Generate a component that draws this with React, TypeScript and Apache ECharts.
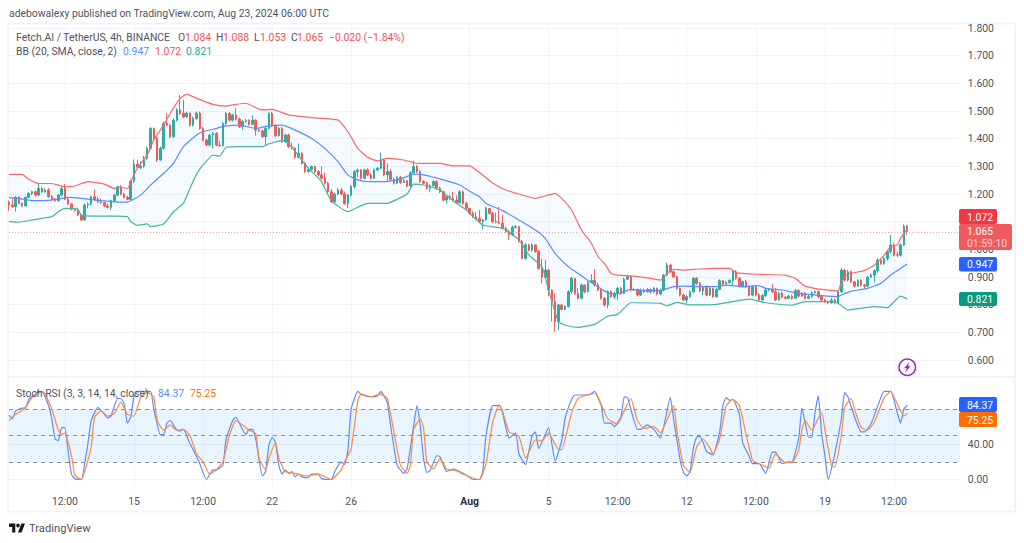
import React, { useEffect, useRef } from "react";
import * as echarts from "echarts";

const closes = [
  1.160,1.154,1.188,1.166,1.157,1.188,1.202,1.208,1.196,1.220,
  1.208,1.214,1.190,1.181,1.176,1.196,1.220,1.181,1.164,1.145,
  1.140,1.124,1.106,1.160,1.164,1.190,1.181,1.172,1.169,1.157,
  1.152,1.176,1.196,1.226,1.200,1.188,1.181,1.247,1.308,1.296,
  1.301,1.330,1.365,1.437,1.401,1.323,1.365,1.455,1.449,1.407,
  1.467,1.504,1.492,1.479,1.492,1.449,1.473,1.492,1.437,1.395,
  1.377,1.413,1.419,1.377,1.375,1.455,1.491,1.467,1.485,1.471,
  1.443,1.462,1.466,1.452,1.467,1.431,1.428,1.407,1.437,1.491,
  1.447,1.411,1.437,1.389,1.413,1.371,1.365,1.333,1.347,1.311,
  1.281,1.289,1.299,1.281,1.269,1.257,1.239,1.208,1.172,1.200,
  1.214,1.200,1.166,1.196,1.227,1.281,1.287,1.257,1.287,1.269,
  1.257,1.287,1.293,1.323,1.269,1.281,1.253,1.239,1.260,1.241,
  1.248,1.229,1.277,1.299,1.281,1.245,1.239,1.221,1.230,1.245,
  1.221,1.208,1.178,1.190,1.184,1.178,1.169,1.208,1.166,1.148,
  1.130,1.118,1.112,1.100,1.106,1.148,1.130,1.100,1.098,1.094,
  1.076,1.064,1.052,1.080,1.082,1.028,0.967,1.016,0.998,1.016,
  0.992,0.931,0.899,0.925,0.853,0.811,0.739,0.799,0.783,0.793,
  0.847,0.895,0.841,0.823,0.871,0.847,0.880,0.887,0.871,0.853,
  0.823,0.799,0.847,0.829,0.841,0.859,0.841,0.892,0.901,0.853,
  0.855,0.835,0.853,0.847,0.855,0.846,0.859,0.839,0.853,0.907,
  0.943,0.919,0.901,0.859,0.835,0.817,0.829,0.847,0.895,0.877,
  0.850,0.862,0.835,0.859,0.829,0.855,0.887,0.875,0.880,0.887,
  0.919,0.895,0.867,0.883,0.865,0.835,0.865,0.835,0.817,0.833,
  0.853,0.855,0.847,0.817,0.841,0.827,0.823,0.831,0.823,0.851,
  0.831,0.841,0.823,0.829,0.843,0.847,0.829,0.817,0.811,0.807,
  0.817,0.807,0.847,0.925,0.889,0.919,0.883,0.867,0.887,0.871,
  0.867,0.899,0.907,0.923,0.961,0.949,0.967,0.992,1.016,0.980,
  0.979,1.016,1.084,1.065,
];
const firstOpen = 1.17;
const highs = [
  1.176,1.185,1.192,1.192,1.170,1.192,1.206,1.212,1.212,1.238,
  1.224,1.220,1.222,1.196,1.186,1.200,1.226,1.236,1.186,1.168,
  1.148,1.150,1.126,1.166,1.170,1.194,1.217,1.190,1.184,1.172,
  1.166,1.180,1.200,1.230,1.232,1.204,1.194,1.252,1.325,1.325,
  1.318,1.338,1.372,1.442,1.440,1.410,1.372,1.462,1.492,1.452,
  1.474,1.510,1.558,1.540,1.498,1.495,1.480,1.498,1.498,1.442,
  1.400,1.418,1.424,1.424,1.392,1.460,1.496,1.495,1.490,1.510,
  1.476,1.468,1.472,1.470,1.484,1.470,1.436,1.432,1.442,1.496,
  1.497,1.452,1.442,1.442,1.418,1.418,1.386,1.370,1.383,1.350,
  1.316,1.295,1.304,1.302,1.286,1.299,1.277,1.244,1.218,1.205,
  1.222,1.222,1.208,1.200,1.232,1.286,1.292,1.290,1.292,1.293,
  1.276,1.292,1.298,1.349,1.328,1.311,1.290,1.258,1.266,1.265,
  1.255,1.252,1.282,1.320,1.305,1.286,1.250,1.244,1.236,1.250,
  1.250,1.226,1.212,1.196,1.198,1.208,1.195,1.214,1.212,1.172,
  1.150,1.138,1.136,1.142,1.110,1.154,1.150,1.136,1.133,1.154,
  1.124,1.082,1.070,1.086,1.088,1.086,1.034,1.022,1.020,1.022,
  1.018,0.998,0.967,0.962,0.930,0.855,0.841,0.803,0.802,0.798,
  0.852,0.900,0.896,0.860,0.876,0.873,0.885,0.910,0.928,0.880,
  0.858,0.828,0.852,0.852,0.846,0.864,0.864,0.897,0.908,0.904,
  0.860,0.858,0.858,0.858,0.860,0.858,0.864,0.862,0.858,0.912,
  0.952,0.946,0.924,0.905,0.862,0.840,0.835,0.852,0.900,0.900,
  0.882,0.868,0.870,0.864,0.862,0.860,0.892,0.888,0.886,0.892,
  0.925,0.925,0.900,0.888,0.890,0.870,0.870,0.871,0.842,0.838,
  0.858,0.860,0.875,0.860,0.846,0.846,0.832,0.836,0.836,0.856,
  0.856,0.846,0.846,0.836,0.848,0.852,0.851,0.834,0.822,0.815,
  0.824,0.822,0.852,0.932,0.930,0.926,0.924,0.885,0.892,0.892,
  0.876,0.904,0.914,0.928,0.968,0.966,0.972,0.998,1.052,1.024,
  0.992,1.022,1.090,1.088,
];
const lows = [
  1.140,1.150,1.136,1.162,1.152,1.155,1.185,1.196,1.190,1.192,
  1.204,1.204,1.186,1.177,1.172,1.172,1.192,1.178,1.160,1.141,
  1.136,1.120,1.102,1.104,1.148,1.158,1.176,1.168,1.165,1.153,
  1.148,1.142,1.170,1.192,1.196,1.184,1.177,1.178,1.240,1.290,
  1.290,1.295,1.322,1.360,1.395,1.316,1.320,1.360,1.445,1.402,
  1.404,1.462,1.486,1.474,1.476,1.444,1.444,1.468,1.432,1.390,
  1.372,1.372,1.365,1.372,1.370,1.372,1.450,1.462,1.462,1.466,
  1.438,1.431,1.458,1.447,1.450,1.411,1.424,1.403,1.375,1.434,
  1.442,1.406,1.408,1.384,1.386,1.366,1.360,1.328,1.329,1.306,
  1.276,1.277,1.285,1.276,1.264,1.252,1.234,1.203,1.167,1.168,
  1.196,1.195,1.161,1.150,1.190,1.220,1.262,1.252,1.254,1.264,
  1.252,1.254,1.282,1.290,1.264,1.248,1.248,1.234,1.236,1.236,
  1.240,1.224,1.226,1.274,1.276,1.240,1.234,1.216,1.206,1.226,
  1.216,1.203,1.173,1.166,1.179,1.173,1.164,1.166,1.161,1.143,
  1.126,1.113,1.107,1.095,1.072,1.103,1.125,1.096,1.094,1.090,
  1.072,1.060,1.034,1.048,1.076,1.024,0.965,0.963,0.994,0.992,
  0.988,0.927,0.877,0.893,0.831,0.739,0.702,0.708,0.779,0.780,
  0.790,0.840,0.835,0.818,0.820,0.842,0.845,0.878,0.866,0.849,
  0.818,0.794,0.787,0.825,0.820,0.817,0.836,0.838,0.890,0.848,
  0.848,0.830,0.831,0.842,0.843,0.841,0.842,0.834,0.834,0.848,
  0.902,0.914,0.896,0.854,0.830,0.812,0.805,0.824,0.842,0.872,
  0.845,0.835,0.830,0.832,0.825,0.825,0.852,0.870,0.872,0.876,
  0.871,0.890,0.862,0.862,0.860,0.830,0.830,0.830,0.812,0.815,
  0.828,0.848,0.842,0.812,0.815,0.822,0.818,0.820,0.818,0.820,
  0.826,0.828,0.818,0.820,0.825,0.840,0.824,0.812,0.806,0.802,
  0.803,0.802,0.805,0.842,0.884,0.884,0.878,0.862,0.864,0.866,
  0.860,0.862,0.900,0.880,0.915,0.944,0.944,0.960,0.985,0.975,
  0.972,0.975,1.012,1.053,
];

const bbUpper = [
  [0,1.271],[4,1.271],[6,1.253],[9,1.238],[13,1.238],[17,1.226],[20,1.229],[24,1.245],[29,1.236],[32,1.220],
  [33,1.226],[36,1.220],[37,1.245],[39,1.293],[42,1.341],[44,1.395],[47,1.449],[49,1.492],[52,1.546],[54,1.561],
  [57,1.546],[62,1.524],[66,1.518],[69,1.524],[72,1.528],[76,1.507],[78,1.504],[80,1.506],[85,1.486],[92,1.476],
  [100,1.4675],[103,1.425],[106,1.365],[109,1.333],[112,1.320],[115,1.329],[120,1.323],[124,1.311],[131,1.311],
  [135,1.302],[140,1.302],[143,1.278],[147,1.24],[151,1.2145],[155,1.200],[160,1.184],[162,1.190],[166,1.2025],
  [168,1.184],[171,1.142],[174,1.070],[177,1.022],[179,0.974],[181,0.949],[183,0.913],[185,0.907],[189,0.904],
  [193,0.899],[198,0.889],[200,0.913],[202,0.928],[205,0.925],[210,0.929],[215,0.931],[219,0.931],[221,0.916],
  [227,0.910],[236,0.907],[239,0.895],[242,0.867],[247,0.855],[252,0.850],[253,0.883],[255,0.911],[260,0.923],
  [263,0.943],[266,0.979],[268,1.010],[270,1.016],[271,1.040],[273,1.072],
];
const bbMiddle = [
  [0,1.187],[3,1.184],[7,1.176],[13,1.178],[18,1.188],[22,1.184],[28,1.176],[33,1.171],[36,1.171],[40,1.196],
  [43,1.232],[47,1.275],[50,1.311],[53,1.371],[57,1.413],[59,1.425],[62,1.434],[66,1.446],[70,1.449],[75,1.437],
  [79,1.446],[83,1.449],[87,1.431],[92,1.401],[96,1.365],[100,1.317],[103,1.269],[106,1.251],[109,1.245],[114,1.245],
  [119,1.254],[123,1.272],[126,1.269],[132,1.251],[137,1.2325],[140,1.21],[143,1.190],[145,1.166],[150,1.140],
  [155,1.106],[160,1.070],[163,1.040],[166,0.985],[170,0.937],[173,0.913],[176,0.887],[179,0.865],[182,0.843],
  [185,0.839],[189,0.855],[193,0.851],[198,0.851],[202,0.865],[205,0.867],[210,0.865],[215,0.865],[218,0.871],
  [223,0.865],[228,0.869],[230,0.859],[235,0.853],[240,0.841],[247,0.833],[252,0.829],[253,0.835],[256,0.849],
  [261,0.859],[265,0.877],[268,0.907],[271,0.931],[273,0.947],
];
const bbLower = [
  [0,1.100],[3,1.098],[7,1.106],[13,1.118],[15,1.136],[17,1.148],[21,1.145],[22,1.122],[32,1.120],[36,1.118],
  [37,1.100],[39,1.087],[42,1.092],[43,1.082],[47,1.092],[50,1.136],[53,1.166],[55,1.220],[57,1.271],[59,1.305],
  [62,1.341],[64,1.337],[66,1.369],[70,1.371],[77,1.371],[79,1.381],[83,1.393],[85,1.383],[91,1.293],[95,1.245],
  [98,1.175],[103,1.136],[106,1.152],[109,1.166],[115,1.166],[118,1.181],[121,1.200],[123,1.236],[126,1.2325],
  [131,1.214],[135,1.175],[139,1.142],[144,1.088],[150,1.076],[155,1.034],[158,0.980],[162,0.937],[164,0.853],
  [167,0.739],[170,0.723],[173,0.718],[178,0.729],[182,0.759],[185,0.765],[189,0.807],[198,0.805],[200,0.796],
  [203,0.808],[207,0.799],[214,0.800],[220,0.811],[225,0.820],[230,0.807],[238,0.798],[242,0.811],[250,0.811],
  [252,0.805],[255,0.781],[259,0.787],[263,0.793],[267,0.789],[271,0.831],[273,0.821],
];

const stochK = [
  [0,73],[1,69],[2,78],[4,81],[5,81],[6,91],[8,97],[9,100],[10,100],[12,84],[13,69],[14,46],[15,44],[16,59],[17,59],
  [18,31],[19,6],[20,1],[22,0],[23,18],[24,41],[25,67],[27,82],[29,74],[30,70],[31,72],[33,92],[34,92],[35,86],[36,64],
  [37,71],[38,95],[39,100],[43,100],[44,80],[46,51],[47,51],[48,64],[49,67],[51,56],[52,55],[53,57],[55,41],[57,26],
  [58,18],[60,0],[62,11],[63,11],[65,16],[66,46],[68,67],[69,71],[70,64],[72,51],[73,57],[74,57],[75,46],[77,4],[78,9],
  [79,39],[80,48],[81,42],[82,16],[83,6],[84,11],[85,7],[86,9],[87,3],[88,6],[89,3],[91,2],[92,6],[94,6],[95,1],[98,0],
  [99,9],[101,20],[102,17],[103,33],[104,80],[106,100],[107,97],[110,94],[112,95],[113,100],[115,87],[116,61],[118,16],
  [120,7],[121,12],[123,61],[124,84],[125,61],[126,24],[127,8],[128,10],[130,27],[131,26],[133,9],[135,12],[137,9],
  [139,5],[141,0],[143,0],[144,9],[145,50],[147,84],[149,84],[150,76],[152,47],[154,53],[155,29],[157,17],[159,50],
  [160,54],[161,35],[164,59],[166,21],[168,44],[169,69],[171,91],[172,96],[176,96],[178,100],[180,84],[181,64],[183,64],
  [184,60],[186,71],[187,94],[188,93],[191,57],[192,57],[194,62],[196,57],[198,47],[201,93],[202,69],[204,22],[205,8],
  [206,4],[207,9],[208,35],[209,48],[210,49],[211,42],[212,32],[214,28],[216,54],[217,84],[218,93],[219,90],[220,91],
  [222,74],[223,42],[225,26],[226,18],[228,18],[230,7],[232,31],[233,31],[235,18],[237,20],[238,20],[240,46],[241,81],
  [242,65],[243,48],[244,48],[245,76],[246,95],[247,52],[248,27],[249,0],[251,29],[253,69],[254,99],[255,94],[257,71],
  [259,54],[260,54],[262,63],[265,93],[266,100],[268,100],[270,76],[271,64],[272,80],[273,84.37],
];
const stochD = [
  [0,67],[2,74],[3,76],[5,82],[7,93],[10,100],[11,97],[13,80],[15,56],[16,51],[17,53],[19,27],[20,5],[22,0],[23,9],
  [25,37],[26,71],[28,78],[30,72],[32,75],[34,88],[36,74],[38,72],[40,93],[42,99],[44,94],[45,67],[47,56],[49,62],
  [51,56],[53,57],[55,50],[57,29],[59,20],[61,6],[63,11],[65,20],[67,50],[69,67],[73,56],[75,52],[76,24],[78,11],
  [79,24],[81,42],[82,24],[84,9],[87,7],[90,4],[94,6],[98,0],[101,11],[102,20],[104,35],[106,89],[107,97],[110,94],
  [113,97],[115,92],[117,54],[119,16],[121,7],[122,16],[123,57],[125,69],[126,59],[127,20],[129,12],[131,24],[133,12],
  [136,10],[138,6],[143,0],[145,18],[147,65],[149,85],[150,78],[152,54],[155,49],[157,24],[160,45],[162,44],[164,53],
  [167,34],[168,34],[171,76],[173,92],[178,98],[179,94],[182,69],[185,63],[187,78],[189,92],[191,67],[193,58],[196,60],
  [198,53],[202,84],[203,56],[205,16],[207,8],[209,37],[211,46],[213,36],[214,29],[216,46],[218,84],[220,91],[222,84],
  [224,52],[226,22],[228,18],[231,13],[233,29],[236,19],[238,19],[240,33],[241,57],[242,67],[244,56],[247,76],[248,56],
  [250,16],[251,14],[253,50],[254,82],[256,92],[257,80],[259,59],[261,56],[263,65],[266,93],[268,100],[270,86],[272,72],[273,75.25],
];

const tickLabels: Record<number, string> = {
  17: "12:00", 38: "15", 59: "12:00", 80: "22", 104: "26", 140: "Aug", 164: "5",
  185: "12:00", 206: "12", 227: "12:00", 248: "19", 269: "12:00",
};
const priceTicks = [0.6, 0.7, 0.8, 0.9, 1.0, 1.1, 1.2, 1.3, 1.4, 1.5, 1.6, 1.7, 1.8];
const priceLabels = [0.6, 0.7, 0.8, 0.9, 1.0, 1.2, 1.3, 1.4, 1.5, 1.6, 1.7, 1.8];
const stochTicks = [0, 40];
const stochLevels = [80, 50, 20];
const categories = Array.from({ length: 290 }, (_, i) => tickLabels[i] ?? "");
const opens = [firstOpen, ...closes.slice(0, -1)];
const candles = closes.map((c, i) => [opens[i], c, lows[i], highs[i]]);

const UP = "#26a69a";
const DOWN = "#ef5350";
const BLUE = "#2962ff";
const RED = "#f23645";
const GREEN = "#089981";
const ORANGE = "#ff6d00";
const FONT = "Roboto, sans-serif";
const FS = 10.4;
const TEXT = "#50535e";
const GRIDC = "#f0f3fa";

echarts.graphic.registerShape(
  "tvlogo",
  echarts.graphic.extendPath(
    "M14 22H7V11H0V4h14v18zM28 22h-8l7.5-18h8L28 22zM16 8a4 4 0 1 0 8 0a4 4 0 1 0-8 0z",
    {}
  )
);

const txt = (x: number, y: number, text: string, fill: string, size = FS) => ({
  type: "text", x, y, z: 200,
  style: { text, fill, font: `${size}px ${FONT}`, textVerticalAlign: "middle" },
});
const tag = (y: number, h: number, w: number, fill: string, label: string) => [
  { type: "rect", z: 150, shape: { x: 959, y, width: w, height: h, r: 2 }, style: { fill } },
  txt(967, y + h / 2 + 0.5, label, "#ffffff"),
];

export default function App() {
  const ref = useRef<HTMLDivElement>(null);
  useEffect(() => {
    const chart = echarts.init(ref.current!, null, { renderer: "svg" });
    const xBase = (gridIndex: number) => ({
      type: "category", gridIndex, data: categories, boundaryGap: false,
      axisLine: { show: false }, axisTick: { show: false },
      splitLine: {
        show: true, interval: (_: number, v: string) => v !== "",
        lineStyle: { color: GRIDC, width: 1 },
      },
    });
    const line = (data: number[][], color: string, xAxisIndex = 0, z = 5) => ({
      type: "line", data, xAxisIndex, yAxisIndex: xAxisIndex, showSymbol: false, smooth: 0.15, z,
      lineStyle: { color, width: 1.2 }, itemStyle: { color }, silent: true,
    });
    const renderBand = (_: any, api: any) => {
      const pts = [
        ...bbUpper.map((p) => api.coord(p)),
        ...[...bbLower].reverse().map((p) => api.coord(p)),
      ];
      return { type: "polygon", shape: { points: pts }, style: { fill: "rgba(33,150,243,0.05)" } };
    };
    chart.setOption({
      animation: false,
      backgroundColor: "#ffffff",
      grid: [
        { left: 9, top: 24, width: 950.8, height: 351 },
        { left: 9, top: 378, width: 950.8, height: 111 },
      ],
      xAxis: [
        { ...xBase(0), axisLabel: { show: false } },
        {
          ...xBase(1),
          axisLabel: {
            show: true, interval: (_: number, v: string) => v !== "", color: TEXT, fontSize: FS, fontFamily: FONT, margin: 7,
            formatter: (v: string) => (v === "Aug" ? "{b|Aug}" : v),
            rich: { b: { fontWeight: "bold", color: "#2a2e39", fontSize: FS, fontFamily: FONT } },
          },
        },
      ],
      yAxis: [
        {
          type: "value", gridIndex: 0, position: "right", min: 0.5458, max: 1.8145,
          axisLine: { show: false },
          axisTick: { show: false, customValues: priceTicks },
          splitLine: { show: true, lineStyle: { color: GRIDC, width: 1 } },
          axisLabel: {
            customValues: priceLabels, color: TEXT, fontSize: FS, fontFamily: FONT, margin: 8,
            formatter: (v: number) => v.toFixed(3),
          },
        },
        {
          type: "value", gridIndex: 1, position: "right", min: -10.8, max: 115.3,
          axisLine: { show: false },
          axisTick: { show: false, customValues: stochTicks },
          splitLine: { show: true, lineStyle: { color: GRIDC, width: 1 } },
          axisLabel: {
            customValues: stochTicks, color: TEXT, fontSize: FS, fontFamily: FONT, margin: 8,
            formatter: (v: number) => v.toFixed(2),
          },
        },
      ],
      series: [
        {
          type: "custom", xAxisIndex: 0, yAxisIndex: 0, data: [[0, 1]], renderItem: renderBand, silent: true, z: 1,
        },
        {
          type: "candlestick", xAxisIndex: 0, yAxisIndex: 0, data: candles, barWidth: 2, z: 3, silent: true,
          itemStyle: { color: UP, color0: DOWN, borderColor: UP, borderColor0: DOWN, borderWidth: 1, opacity: 0.92 },
          markLine: {
            silent: true, symbol: "none", label: { show: false },
            lineStyle: { color: "#f9a5a5", type: [1, 2], width: 1, opacity: 1 },
            emphasis: { disabled: true },
            data: [{ yAxis: closes[closes.length - 1], lineStyle: { color: "#f9a5a5", type: [1, 2], width: 1 } }],
          },
        },
        line(bbUpper, "#f7686f"),
        line(bbMiddle, "#5b8cff"),
        line(bbLower, "#45b5a2"),
        {
          ...line(stochK, "#5b8cff", 1),
          markArea: {
            silent: true, itemStyle: { color: "rgba(33,150,243,0.1)" },
            data: [[{ yAxis: stochLevels[2] }, { yAxis: stochLevels[0] }]],
          },
          markLine: {
            silent: true, symbol: "none", label: { show: false },
            lineStyle: { color: "#8a8d97", type: [4, 4], width: 1 },
            data: stochLevels.map((v) => ({ yAxis: v })),
          },
        },
        line(stochD, "#ff8a3c", 1, 6),
      ],
      graphic: [
        { type: "rect", z: 0, silent: true, shape: { x: 8, y: 23.5, width: 1007, height: 488 }, style: { fill: "none", stroke: GRIDC, lineWidth: 2 } },
        { type: "line", z: 0, silent: true, shape: { x1: 8, y1: 377, x2: 1015, y2: 377 }, style: { stroke: GRIDC, lineWidth: 2 } },
        txt(9, 13, "adebowalexy published on TradingView.com, Aug 23, 2024 06:00 UTC", TEXT),
        txt(16, 37, "Fetch.AI / TetherUS, 4h, BINANCE", TEXT),
        txt(178, 37, "O", TEXT), txt(185, 37, "1.084", DOWN),
        txt(216, 37, "H", TEXT), txt(223, 37, "1.088", DOWN),
        txt(254, 37, "L", TEXT), txt(260, 37, "1.053", DOWN),
        txt(291, 37, "C", TEXT), txt(297, 37, "1.065", DOWN),
        txt(329, 37, "\u22120.020 (\u22121.84%)", DOWN),
        txt(16, 51, "BB (20, SMA, close, 2)", TEXT),
        txt(123, 51, "0.947", "#5b8cff"), txt(155, 51, "1.072", DOWN), txt(186, 51, "0.821", "#22ab94"),
        txt(16, 393, "Stoch RSI (3, 3, 14, 14, close)", TEXT),
        txt(158, 393, "84.37", "#5b8cff"), txt(190, 393, "75.25", ORANGE),
        ...tag(209, 15, 38, RED, "1.072"),
        { type: "rect", z: 160, shape: { x: 959, y: 224, width: 53, height: 26, r: 2 }, style: { fill: "#f05a5e" } },
        txt(967, 231.5, "1.065", "#ffffff"),
        txt(967, 243, "01:59:10", "#fbd3d3"),
        ...tag(257, 14.5, 38, BLUE, "0.947"),
        ...tag(292, 14, 38, GREEN, "0.821"),
        ...tag(397, 15, 38, BLUE, "84.37"),
        ...tag(412, 15, 38, ORANGE, "75.25"),
        { type: "circle", z: 200, shape: { cx: 907.3, cy: 367.3, r: 8.2 }, style: { fill: "#ffffff", stroke: "#9c27b0", lineWidth: 1.5 } },
        { type: "polygon", z: 201, shape: { points: [[909.5, 362], [904, 368.3], [906.8, 368.3], [905, 372.6], [910.6, 366.3], [907.8, 366.3]] }, style: { fill: "#9c27b0" } },
        { type: "tvlogo", x: 9, y: 521.5, scaleX: 0.45, scaleY: 0.5, z: 200, style: { fill: "#131722" } },
        txt(29, 528, "TradingView", TEXT, 11.2),
      ],
    });
    return () => chart.dispose();
  }, []);
  return (
    <div
      ref={ref}
      style={{ position: "absolute", left: 0, top: 0, width: 1024, height: 543, background: "#fff" }}
    />
  );
}
